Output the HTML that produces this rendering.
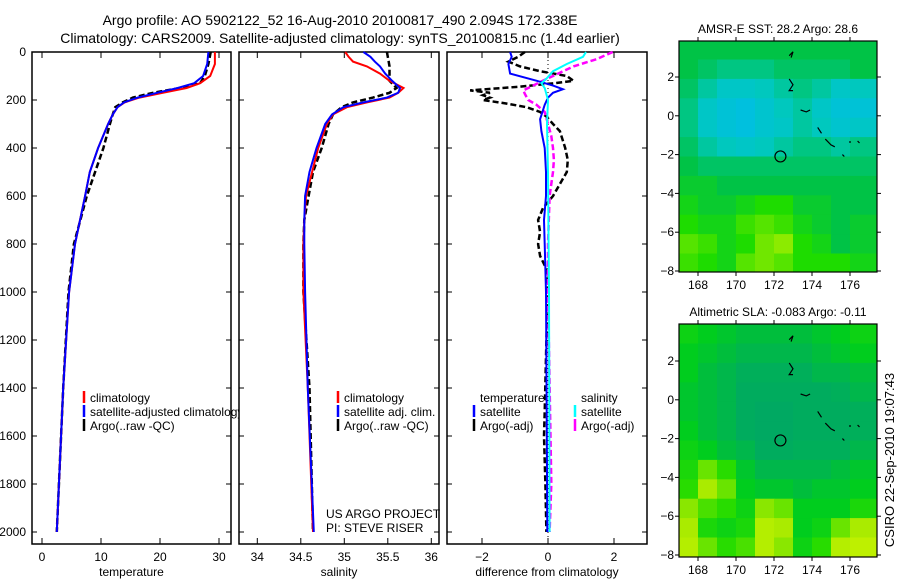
<!DOCTYPE html>
<html><head><meta charset="utf-8">
<style>
html,body{margin:0;padding:0;background:#fff;}
svg{display:block;font-family:"Liberation Sans",sans-serif;}
</style></head>
<body>
<svg id="fig" width="900" height="580" viewBox="0 0 900 580" xmlns="http://www.w3.org/2000/svg">
<text x="340" y="25" font-size="14" text-anchor="middle">Argo profile: AO 5902122_52 16-Aug-2010 20100817_490 2.094S 172.338E</text>
<text x="340" y="43" font-size="14" text-anchor="middle">Climatology: CARS2009. Satellite-adjusted climatology: synTS_20100815.nc (1.4d earlier)</text>
<g id="p1"></g>
<g id="p2"></g>
<g id="p3"></g>
<g id="m1"></g>
<g id="m2"></g>
<text transform="translate(894,460) rotate(-90)" font-size="13" text-anchor="middle">CSIRO 22-Sep-2010 19:07:43</text>
</svg>
<script>
// ---------- data ----------
const depthTicks = [0,200,400,600,800,1000,1200,1400,1600,1800,2000];
const tempTicks = [0,10,20,30];
const salTicks = [34,34.5,35,35.5,36];
const diffTicks = [-2,0,2];
const tDepths = [0,50,100,130,150,170,190,210,230,260,300,400,500,600,800,1000,1400,2000];
const tClim =   [29.3,29.3,28.5,26.8,24.5,20.5,16.5,14.0,12.8,12.0,11.2,9.5,8.1,7.3,5.6,4.6,3.6,2.5];
const tSat =    [28.2,28.0,27.3,25.8,23.0,19.5,16.2,13.9,12.8,12.0,11.2,9.5,8.1,7.3,5.6,4.6,3.6,2.5];
const tArgo =   [28.6,28.2,27.6,26.8,23.4,18.8,15.4,13.7,12.4,12.0,11.5,10.4,9.0,7.6,5.4,4.5,3.6,2.5];
const sDepths = [0,20,40,60,90,120,150,170,190,210,230,260,300,400,500,600,700,800,1000,1400,2000];
const sClim = [35.01,35.05,35.1,35.26,35.41,35.52,35.68,35.62,35.52,35.26,35.03,34.87,34.8,34.7,34.63,34.56,34.54,34.53,34.53,34.58,34.64];
const sSat  = [35.22,35.3,35.35,35.41,35.47,35.55,35.64,35.62,35.49,35.22,34.99,34.86,34.78,34.68,34.6,34.55,34.54,34.54,34.55,34.58,34.65];
const sArgo = [35.49,35.5,35.51,35.52,35.52,35.52,35.6,35.52,35.33,35.1,34.97,34.87,34.82,34.74,34.64,34.59,34.54,34.53,34.53,34.6,34.64];
const dtDepths = [0,20,50,90,120,140,155,170,190,220,280,330,400,500,600,700,800,1000,1500,2000];
const dtSat = [-1.15,-1.1,-1.2,-1.15,-0.34,0.15,0.45,0.15,0.0,-0.1,-0.24,-0.2,-0.1,-0.06,-0.06,-0.12,-0.1,-0.06,-0.04,-0.02];
const dtArgoDepths = [0,20,40,60,80,100,120,130,145,160,170,180,190,200,215,230,250,270,300,330,400,450,500,550,600,650,700,750,800,850,900,1000,1200,1500,1600,1800,2000];
const dtArgo = [-0.7,-0.9,-1.2,-0.85,-0.24,0.57,0.77,0.2,-0.9,-2.36,-1.76,-1.97,-1.76,-1.97,-1.25,-0.65,-0.24,-0.04,0.15,0.36,0.52,0.6,0.57,0.36,0.15,-0.15,-0.3,-0.24,-0.3,-0.24,-0.06,0,-0.05,-0.1,-0.12,-0.08,-0.05];
const dsDepths = [0,20,50,80,110,130,150,200,300,500,1000,2000];
const dsSat = [1.15,1.06,0.57,0.15,-0.04,-0.2,-0.1,0.0,-0.03,0.0,0.03,0.05];
const dsArgoDepths = [0,30,60,100,125,140,160,175,200,220,250,300,350,400,450,500,600,800,1000,1800,2000];
const dsArgo = [1.96,1.47,0.77,0.15,-0.24,-0.45,-0.75,-0.7,-0.6,-0.35,-0.1,0,0.1,0.15,0.18,0.15,0.05,0,0,0.1,0.05];
// map grids (rows top->bottom, 1 deg each from 3.9N; cols 1 deg each from 167E)
const mapLonTicks = [168,170,172,174,176];
const mapLatTicks = [2,0,-2,-4,-6,-8];
const sstGrid = [
[0.45,0.45,0.45,0.45,0.45,0.45,0.45,0.45,0.45,0.45,0.45],
[0.45,0.4,0.35,0.35,0.35,0.4,0.4,0.4,0.4,0.45,0.45],
[0.4,0.3,0.2,0.2,0.25,0.3,0.35,0.3,0.2,0.25,0.25],
[0.35,0.2,0.1,0.05,0.15,0.25,0.3,0.2,0.1,0.1,0.1],
[0.35,0.2,0.1,0.05,0.15,0.2,0.3,0.25,0.15,0.2,0.2],
[0.4,0.3,0.25,0.2,0.25,0.3,0.35,0.35,0.3,0.35,0.35],
[0.45,0.4,0.4,0.4,0.4,0.4,0.4,0.4,0.4,0.4,0.4],
[0.5,0.5,0.45,0.45,0.45,0.45,0.45,0.45,0.45,0.45,0.45],
[0.55,0.5,0.5,0.55,0.6,0.6,0.5,0.5,0.45,0.45,0.45],
[0.6,0.55,0.55,0.65,0.7,0.65,0.55,0.5,0.45,0.5,0.5],
[0.7,0.65,0.55,0.6,0.75,0.8,0.6,0.55,0.45,0.5,0.5],
[0.65,0.6,0.55,0.7,0.75,0.7,0.6,0.6,0.6,0.55,0.55]];
const slaGrid = [
[0.5,0.45,0.4,0.35,0.35,0.35,0.35,0.4,0.45,0.5,0.5],
[0.45,0.4,0.35,0.3,0.3,0.3,0.3,0.35,0.4,0.45,0.45],
[0.45,0.35,0.3,0.25,0.25,0.25,0.25,0.3,0.3,0.35,0.35],
[0.4,0.35,0.3,0.2,0.2,0.2,0.2,0.2,0.25,0.3,0.3],
[0.4,0.35,0.3,0.2,0.15,0.15,0.2,0.2,0.2,0.25,0.25],
[0.45,0.35,0.3,0.2,0.15,0.15,0.2,0.2,0.2,0.25,0.25],
[0.5,0.45,0.35,0.3,0.2,0.2,0.25,0.25,0.25,0.3,0.3],
[0.55,0.7,0.6,0.4,0.3,0.3,0.3,0.3,0.35,0.4,0.4],
[0.6,0.8,0.7,0.45,0.4,0.4,0.35,0.4,0.4,0.45,0.45],
[0.75,0.65,0.6,0.5,0.75,0.7,0.45,0.45,0.45,0.55,0.55],
[0.8,0.55,0.5,0.55,0.85,0.8,0.45,0.5,0.7,0.8,0.8],
[0.85,0.7,0.6,0.65,0.85,0.75,0.5,0.6,0.85,0.9,0.9]];
const islandsLon = [[172.8,173.0,172.9],[172.8,173.0,172.8,173.0],[173.4,173.7,173.9],[174.3,174.5],[174.7,175.0,175.2],[176.0,176.0],[176.4,176.5],[175.6,175.7]];
const islandsLat = [[3.1,3.3,3.0],[1.9,1.6,1.3,1.3],[0.3,0.2,0.3],[-0.6,-0.9],[-1.2,-1.5,-1.6],[-1.3,-1.4],[-1.3,-1.4],[-2.0,-2.1]];
const argoLon = 172.338, argoLat = -2.094;

// ---------- helpers ----------
const NS = "http://www.w3.org/2000/svg";
function mk(tag, parent){ const e=document.createElementNS(NS,tag); parent.appendChild(e); return e; }
const y0 = 52, yK = 0.24;
function yD(d){ return y0 + d*yK; }
const PB = 544;

function panel(g, x1, x2, xfn, ticks, fmt, label){
  const bg = mk('rect', g);
  bg.setAttribute('x',x1); bg.setAttribute('y',y0); bg.setAttribute('width',x2-x1); bg.setAttribute('height',PB-y0);
  bg.setAttribute('fill','#fff'); bg.setAttribute('stroke','#000'); bg.setAttribute('stroke-width','1.5');
  
  
  ticks.forEach(t=>{
    const x = xfn(t);
    [[y0,y0+6],[PB-6,PB]].forEach(([a,b])=>{
      const l = mk('line', g); l.setAttribute('x1',x); l.setAttribute('x2',x); l.setAttribute('y1',a); l.setAttribute('y2',b); l.setAttribute('stroke','#000');
      
      
    });
    const tx = mk('text', g); tx.setAttribute('x',x); tx.setAttribute('y',561); tx.setAttribute('font-size','12'); tx.setAttribute('text-anchor','middle'); tx.textContent = fmt(t);
    
    
  });
  depthTicks.forEach(d=>{
    const y = yD(d);
    [[x1,x1+5],[x2-5,x2]].forEach(([a,b])=>{
      const l = mk('line', g); l.setAttribute('x1',a); l.setAttribute('x2',b); l.setAttribute('y1',y); l.setAttribute('y2',y); l.setAttribute('stroke','#000');
      
      
    });
  });
  const xl = mk('text', g); xl.setAttribute('x',(x1+x2)/2); xl.setAttribute('y',576); xl.setAttribute('font-size','12'); xl.setAttribute('text-anchor','middle'); xl.textContent = label;
  
  
}
function line(g, depths, vals, xfn, color, dashed, name){
  const p = mk('polyline', g);
  p.setAttribute('points', depths.map((d,i)=>xfn(vals[i]).toFixed(1)+','+yD(d).toFixed(1)).join(' '));
  p.setAttribute('fill','none'); p.setAttribute('stroke',color); p.setAttribute('stroke-width', dashed?2.5:2);
  if(dashed) p.setAttribute('stroke-dasharray','6,3');
  
  
}
function legend(g, x, y, color, text, name){
  const l = mk('line', g); l.setAttribute('x1',x); l.setAttribute('x2',x); l.setAttribute('y1',y-11); l.setAttribute('y2',y+1); l.setAttribute('stroke',color); l.setAttribute('stroke-width','2.5');
  
  
  const t = mk('text', g); t.setAttribute('x',x+6); t.setAttribute('y',y); t.setAttribute('font-size','12'); t.textContent = text;
  
  
}

// ---------- panel 1: temperature ----------
const p1 = document.getElementById('p1');
const xT = t => 42 + 5.9*t;
panel(p1, 32, 231, xT, tempTicks, t=>String(t), 'temperature');
depthTicks.forEach(d=>{
  const tx = mk('text', p1); tx.setAttribute('x',26); tx.setAttribute('y',yD(d)+4); tx.setAttribute('font-size','12'); tx.setAttribute('text-anchor','end'); tx.textContent = d;
  
  
});
line(p1, tDepths, tArgo, xT, '#000', true, 'temp-argo-line');
line(p1, tDepths, tClim, xT, '#f00', false, 'temp-climatology-line');
line(p1, tDepths, tSat, xT, '#00f', false, 'temp-satellite-line');
legend(p1, 84, 402, '#f00', 'climatology', 'legend-climatology');
legend(p1, 84, 416, '#00f', 'satellite-adjusted climatology', 'legend-satellite-adjusted');
legend(p1, 84, 430, '#000', 'Argo(..raw -QC)', 'legend-argo');

// ---------- panel 2: salinity ----------
const p2 = document.getElementById('p2');
const xS = s => 257.3 + 87*(s-34);
panel(p2, 239, 439, xS, salTicks, s=>String(s), 'salinity');
line(p2, sDepths, sArgo, xS, '#000', true, 'sal-argo-line');
line(p2, sDepths, sClim, xS, '#f00', false, 'sal-climatology-line');
line(p2, sDepths, sSat, xS, '#00f', false, 'sal-satellite-line');
legend(p2, 338, 402, '#f00', 'climatology', 'legend-sal-climatology');
legend(p2, 338, 416, '#00f', 'satellite adj. clim.', 'legend-sal-satellite');
legend(p2, 338, 430, '#000', 'Argo(..raw -QC)', 'legend-sal-argo');
[['US ARGO PROJECT',518,'project-label'],['PI: STEVE RISER',532,'pi-label']].forEach(([s,y,n])=>{
  const t = mk('text', p2); t.setAttribute('x',326); t.setAttribute('y',y); t.setAttribute('font-size','12'); t.textContent = s;
  
  
});

// ---------- panel 3: differences ----------
const p3 = document.getElementById('p3');
const xDf = v => 548 + 33*v;
panel(p3, 447, 647, xDf, diffTicks, v=>v<0?'\u2212'+Math.abs(v):String(v), 'difference from climatology');
const zl = mk('line', p3); zl.setAttribute('x1',xDf(0)); zl.setAttribute('x2',xDf(0)); zl.setAttribute('y1',y0); zl.setAttribute('y2',PB); zl.setAttribute('stroke','#000'); zl.setAttribute('stroke-dasharray','1,3');


line(p3, dtArgoDepths, dtArgo, xDf, '#000', true, 'diff-temp-argo-line');
line(p3, dsArgoDepths, dsArgo, xDf, '#f0f', true, 'diff-sal-argo-line');
line(p3, dtDepths, dtSat, xDf, '#00f', false, 'diff-temp-satellite-line');
line(p3, dsDepths, dsSat, xDf, '#0ff', false, 'diff-sal-satellite-line');
[['temperature',480,'legend-temperature-heading'],['salinity',581,'legend-salinity-heading']].forEach(([s,x,n])=>{
  const t = mk('text', p3); t.setAttribute('x',x); t.setAttribute('y',402); t.setAttribute('font-size','12'); t.textContent = s;
  
  
});
legend(p3, 474, 416, '#00f', 'satellite', 'legend-temp-satellite');
legend(p3, 474, 430, '#000', 'Argo(-adj)', 'legend-temp-argo');
legend(p3, 575, 416, '#0ff', 'satellite', 'legend-sal-satellite-diff');
legend(p3, 575, 430, '#f0f', 'Argo(-adj)', 'legend-sal-argo-diff');

// ---------- maps ----------
function lerpColor(stops, v){
  for(let i=1;i<stops.length;i++){
    if(v<=stops[i][0]){
      const a=stops[i-1], b=stops[i], f=(v-a[0])/(b[0]-a[0]);
      return 'rgb('+[1,2,3].map(k=>Math.round(a[k]+(b[k]-a[k])*f)).join(',')+')';
    }
  }
  const s=stops[stops.length-1]; return 'rgb('+s[1]+','+s[2]+','+s[3]+')';
}
const sstStops = [[0,0,190,230],[0.25,0,200,190],[0.45,0,195,70],[0.6,30,220,0],[0.8,140,235,0],[1,200,245,0]];
const slaStops = [[0,0,160,110],[0.25,0,175,90],[0.45,0,205,30],[0.6,40,220,0],[0.8,170,235,0],[1,210,245,0]];
function drawMap(g, top, bottom, yAt2, grid, stops, title){
  const L=679, R=877;
  const xL = lon => 698 + (lon-168)*19;
  const yL = lat => yAt2 + (2-lat)*19.4;
  const cp = mk('clipPath', g); cp.setAttribute('id','clip'+top);
  const cr = mk('rect', cp); cr.setAttribute('x',L); cr.setAttribute('y',top); cr.setAttribute('width',R-L); cr.setAttribute('height',bottom-top);
  const cells = mk('g', g); cells.setAttribute('clip-path','url(#clip'+top+')');
  
  
  grid.forEach((row,r)=>row.forEach((v,c)=>{
    const lat = 3.9 - r, lon = 167 + c;
    const rc = mk('rect', cells);
    rc.setAttribute('x', xL(lon).toFixed(1)); rc.setAttribute('y', yL(lat).toFixed(1));
    rc.setAttribute('width', 19.6); rc.setAttribute('height', 20);
    rc.setAttribute('fill', lerpColor(stops, v));
    
    
  }));
  islandsLon.forEach((lons,i)=>{
    const p = mk('polyline', cells);
    p.setAttribute('points', lons.map((lo,j)=>xL(lo).toFixed(1)+','+yL(islandsLat[i][j]).toFixed(1)).join(' '));
    p.setAttribute('fill','none'); p.setAttribute('stroke','#000'); p.setAttribute('stroke-width','1.2');
    
    
  });
  const c = mk('circle', g); c.setAttribute('cx',xL(argoLon)); c.setAttribute('cy',yL(argoLat)); c.setAttribute('r',5.5); c.setAttribute('fill','none'); c.setAttribute('stroke','#000'); c.setAttribute('stroke-width','1.2');
  
  
  const fr = mk('rect', g); fr.setAttribute('x',L); fr.setAttribute('y',top); fr.setAttribute('width',R-L); fr.setAttribute('height',bottom-top); fr.setAttribute('fill','none'); fr.setAttribute('stroke','#000'); fr.setAttribute('stroke-width','1.2');
  
  
  mapLonTicks.forEach(lo=>{
    const x = xL(lo);
    const l = mk('line', g); l.setAttribute('x1',x); l.setAttribute('x2',x); l.setAttribute('y1',bottom); l.setAttribute('y2',bottom+4); l.setAttribute('stroke','#000');
    
    
    const l2 = mk('line', g); l2.setAttribute('x1',x); l2.setAttribute('x2',x); l2.setAttribute('y1',top-4); l2.setAttribute('y2',top); l2.setAttribute('stroke','#000');
    
    
    const t = mk('text', g); t.setAttribute('x',x); t.setAttribute('y',bottom+17); t.setAttribute('font-size','12'); t.setAttribute('text-anchor','middle'); t.textContent = lo;
    
    
  });
  mapLatTicks.forEach(la=>{
    const y = yL(la);
    const l = mk('line', g); l.setAttribute('x1',L-4); l.setAttribute('x2',L); l.setAttribute('y1',y); l.setAttribute('y2',y); l.setAttribute('stroke','#000');
    
    
    const l2 = mk('line', g); l2.setAttribute('x1',R); l2.setAttribute('x2',R+4); l2.setAttribute('y1',y); l2.setAttribute('y2',y); l2.setAttribute('stroke','#000');
    
    
    const t = mk('text', g); t.setAttribute('x',674); t.setAttribute('y',y+4); t.setAttribute('font-size','12'); t.setAttribute('text-anchor','end'); t.textContent = la<0?'\u2212'+Math.abs(la):la;
    
    
  });
  const tt = mk('text', g); tt.setAttribute('x',(L+R)/2); tt.setAttribute('y',top-8); tt.setAttribute('font-size','12'); tt.setAttribute('text-anchor','middle'); tt.textContent = title;
  
  
}
drawMap(document.getElementById('m1'), 41, 272, 77, sstGrid, sstStops, 'AMSR-E SST: 28.2 Argo: 28.6');
drawMap(document.getElementById('m2'), 324, 557, 361, slaGrid, slaStops, 'Altimetric SLA: -0.083 Argo: -0.11');
</script>
</body></html>
